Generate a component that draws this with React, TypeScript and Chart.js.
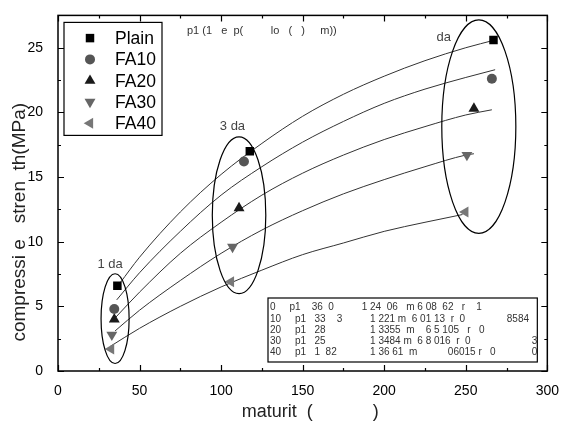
import React, { useEffect, useRef } from "react";
import { Chart, registerables } from "chart.js";
import { drawPoint } from "chart.js/helpers";

Chart.register(...registerables);

// Series names and marker styling
const seriesNames = ["Plain", "FA10", "FA20", "FA30", "FA40"];
const seriesColors = ["#000000", "#555555", "#1a1a1a", "#666666", "#777777"];
const seriesStyles = ["rect", "circle", "triangle", "triangle", "triangle"];
const seriesRotation = [0, 0, 0, 180, 270];
const seriesRadius = [6, 5, 6.3, 6.3, 6.3];

// Measured points at 1, 3 and 7 days (maturity, strength in MPa)
const plainMaturity = [36.4, 117.6, 267];
const plainStrength = [6.6, 17.0, 25.6];
const fa10Maturity = [34.5, 114, 266];
const fa10Strength = [4.8, 16.2, 22.6];
const fa20Maturity = [34.5, 111, 255];
const fa20Strength = [4.0, 12.6, 20.3];
const fa30Maturity = [33, 107, 250.7];
const fa30Strength = [2.8, 9.6, 16.7];
const fa40Maturity = [32.5, 106, 249.7];
const fa40Strength = [1.7, 6.9, 12.3];

// Regression curves
const plainFitM = [38, 50, 75, 100, 125, 150, 175, 200, 225, 250, 268];
const plainFitS = [6.8, 8.8, 12.3, 15.2, 17.6, 19.7, 21.4, 22.8, 24.0, 25.0, 25.6];
const fa10FitM = [36, 50, 75, 100, 125, 150, 175, 200, 225, 250, 268];
const fa10FitS = [5.5, 7.6, 10.8, 13.6, 15.8, 17.7, 19.3, 20.7, 21.8, 22.7, 23.3];
const fa20FitM = [35, 50, 75, 100, 125, 150, 175, 200, 225, 250, 266];
const fa20FitS = [4.1, 6.1, 9.1, 11.5, 13.6, 15.3, 16.7, 17.9, 18.9, 19.8, 20.2];
const fa30FitM = [35, 50, 75, 100, 125, 150, 175, 200, 225, 250, 255];
const fa30FitS = [3.1, 4.7, 7.0, 9.1, 10.9, 12.4, 13.7, 14.8, 15.8, 16.7, 16.8];
const fa40FitM = [32, 50, 75, 100, 125, 150, 175, 200, 225, 248];
const fa40FitS = [1.9, 3.3, 5.0, 6.5, 7.8, 9.0, 9.9, 10.8, 11.5, 12.1];

// Age groups circled on the plot (center, radii in axis units)
const ageLabels = ["1 da", "3 da", "da"];
const ageCenterM = [35, 111, 258];
const ageCenterS = [4.05, 12.05, 18.9];
const ageRadiusM = [8.6, 16.4, 22.7];
const ageRadiusS = [3.47, 6.06, 8.26];
const ageLabelM = [24.2, 99.2, 232];
const ageLabelS = [8.26, 18.9, 25.76];

// Axis ticks
const xTickValues = [0, 50, 100, 150, 200, 250, 300];
const yTickValues = [0, 5, 10, 15, 20, 25];

const formulaText = "p1 (1   e  p(         lo   (   )     m))";
const tableRows = [
  "0     p1    36  0          1 24  06   m 6 08  62   r    1",
  "10     p1   33    3          1 221 m  6 01 13  r  0               8584",
  "20     p1   28                1 3355  m    6 5 105   r   0",
  "30     p1   25                1 3484 m  6 8 016  r  0                      3",
  "40     p1   1  82            1 36 61  m           06015 r   0             0",
];

const FONT = "'Liberation Sans', Arial, sans-serif";

const zip = (xs: number[], ys: number[]) => xs.map((x, i) => ({ x, y: ys[i] }));

const measured = [
  zip(plainMaturity, plainStrength),
  zip(fa10Maturity, fa10Strength),
  zip(fa20Maturity, fa20Strength),
  zip(fa30Maturity, fa30Strength),
  zip(fa40Maturity, fa40Strength),
];
const fitted = [
  zip(plainFitM, plainFitS),
  zip(fa10FitM, fa10FitS),
  zip(fa20FitM, fa20FitS),
  zip(fa30FitM, fa30FitS),
  zip(fa40FitM, fa40FitS),
];

const overlayPlugin = {
  id: "overlay",
  afterDatasetsDraw(chart: any) {
    const { ctx } = chart;
    const xs = chart.scales.x;
    const ys = chart.scales.y;
    ctx.save();
    // ellipses around each age group
    ctx.strokeStyle = "#000";
    ctx.lineWidth = 1.2;
    ageLabels.forEach((label, i) => {
      const cx = xs.getPixelForValue(ageCenterM[i]);
      const cy = ys.getPixelForValue(ageCenterS[i]);
      const rx = Math.abs(xs.getPixelForValue(ageCenterM[i] + ageRadiusM[i]) - cx);
      const ry = Math.abs(ys.getPixelForValue(ageCenterS[i] + ageRadiusS[i]) - cy);
      ctx.beginPath();
      ctx.ellipse(cx, cy, rx, ry, 0, 0, Math.PI * 2);
      ctx.stroke();
      ctx.fillStyle = "#444";
      ctx.font = `13px ${FONT}`;
      ctx.textAlign = "left";
      ctx.textBaseline = "middle";
      ctx.fillText(label, xs.getPixelForValue(ageLabelM[i]), ys.getPixelForValue(ageLabelS[i]));
    });
    ctx.restore();
  },
  afterDraw(chart: any) {
    const { ctx, chartArea } = chart;
    const { left, right, top, bottom } = chartArea;
    const xs = chart.scales.x;
    const ys = chart.scales.y;
    ctx.save();
    // frame
    ctx.strokeStyle = "#000";
    ctx.lineWidth = 1.5;
    ctx.strokeRect(left, top, right - left, bottom - top);
    // inward ticks on all four sides
    ctx.lineWidth = 1.2;
    ctx.beginPath();
    for (let v = 0; v <= 300; v += 25) {
      const len = v % 50 === 0 ? 6 : 3;
      const px = Math.round(xs.getPixelForValue(v)) + 0.5;
      ctx.moveTo(px, bottom);
      ctx.lineTo(px, bottom - len);
      ctx.moveTo(px, top);
      ctx.lineTo(px, top + len);
    }
    for (let v = 0; v <= 27.5; v += 2.5) {
      const len = v % 5 === 0 ? 6 : 3;
      const py = Math.round(ys.getPixelForValue(v)) + 0.5;
      ctx.moveTo(left, py);
      ctx.lineTo(left + len, py);
      ctx.moveTo(right, py);
      ctx.lineTo(right - len, py);
    }
    ctx.stroke();

    // legend box
    const lx = left + 6;
    const ly = top + 7;
    ctx.fillStyle = "#fff";
    ctx.fillRect(lx, ly, 98, 113);
    ctx.strokeStyle = "#000";
    ctx.lineWidth = 1.2;
    ctx.strokeRect(lx, ly, 98, 113);
    seriesNames.forEach((name, i) => {
      const y = ly + 15.7 + i * 21.3;
      ctx.fillStyle = seriesColors[i];
      ctx.strokeStyle = seriesColors[i];
      drawPoint(
        ctx,
        {
          pointStyle: seriesStyles[i],
          rotation: seriesRotation[i],
          radius: seriesRadius[i],
          borderWidth: 0,
        } as any,
        lx + 26,
        y
      );
      ctx.fillStyle = "#000";
      ctx.font = `17.5px ${FONT}`;
      ctx.textAlign = "left";
      ctx.textBaseline = "middle";
      ctx.fillText(name, lx + 51, y + 1);
    });

    // regression formula
    ctx.fillStyle = "#333";
    ctx.font = `11px ${FONT}`;
    ctx.textAlign = "left";
    ctx.textBaseline = "middle";
    ctx.fillText(formulaText, left + 129, top + 16);

    // regression parameter table
    const tx = left + 210;
    const ty = bottom - 73;
    const tw = right - 10 - tx;
    const th = 64;
    ctx.fillStyle = "#fff";
    ctx.fillRect(tx, ty, tw, th);
    ctx.strokeStyle = "#000";
    ctx.lineWidth = 1.2;
    ctx.strokeRect(tx, ty, tw, th);
    ctx.fillStyle = "#333";
    ctx.font = `10px ${FONT}`;
    tableRows.forEach((row, i) => {
      ctx.fillText(row, tx + 2, ty + 9.7 + i * 11.1);
    });
    ctx.restore();
  },
};

export default function App() {
  const canvasRef = useRef<HTMLCanvasElement | null>(null);

  useEffect(() => {
    document.body.style.margin = "0";
    const canvas = canvasRef.current;
    if (!canvas) return;

    const markerSets = measured.map((pts, i) => ({
      label: seriesNames[i],
      data: pts,
      showLine: false,
      pointStyle: seriesStyles[i],
      rotation: seriesRotation[i],
      pointRadius: seriesRadius[i],
      pointBorderWidth: 0,
      backgroundColor: seriesColors[i],
      borderColor: seriesColors[i],
    }));
    const curveSets = fitted.map((pts, i) => ({
      label: seriesNames[i] + " fit",
      data: pts,
      showLine: true,
      pointRadius: 0,
      borderColor: "#333",
      borderWidth: 1,
      cubicInterpolationMode: "monotone",
      fill: false,
    }));

    const chart = new Chart(canvas, {
      type: "scatter",
      data: { datasets: [...markerSets, ...curveSets] as any },
      options: {
        animation: false,
        responsive: false,
        devicePixelRatio: 1,
        layout: { padding: { top: 8, right: 11, left: 0, bottom: 0 } },
        plugins: { legend: { display: false }, tooltip: { enabled: false } },
        scales: {
          x: {
            type: "linear",
            min: 0,
            max: 300,
            afterFit: (s: any) => {
              s.height = 54;
            },
            afterBuildTicks: (s: any) => {
              s.ticks = xTickValues.map((v) => ({ value: v }));
            },
            ticks: {
              color: "#000",
              font: { family: FONT, size: 14 },
              padding: 4,
              maxRotation: 0,
            },
            grid: { display: false },
            border: { display: false },
            title: {
              display: true,
              text: "   maturit  (            )",
              color: "#222",
              font: { family: FONT, size: 18, lineHeight: 1.2 },
              padding: { top: 0, bottom: 2 },
            },
          },
          y: {
            type: "linear",
            min: 0,
            max: 27.5,
            afterFit: (s: any) => {
              s.width = 58;
            },
            afterBuildTicks: (s: any) => {
              s.ticks = yTickValues.map((v) => ({ value: v }));
            },
            ticks: {
              color: "#000",
              font: { family: FONT, size: 14 },
              padding: 7,
            },
            grid: { display: false },
            border: { display: false },
            title: {
              display: true,
              text: "compressi e   stren  th(MPa)           ",
              color: "#222",
              font: { family: FONT, size: 19, lineHeight: 1.2 },
              padding: { top: 8, bottom: 0 },
            },
          },
        },
      } as any,
      plugins: [overlayPlugin],
    });

    return () => chart.destroy();
  }, []);

  return (
    <div style={{ width: 563, height: 425 }}>
      <canvas ref={canvasRef} width={563} height={425} style={{ display: "block" }} />
    </div>
  );
}
